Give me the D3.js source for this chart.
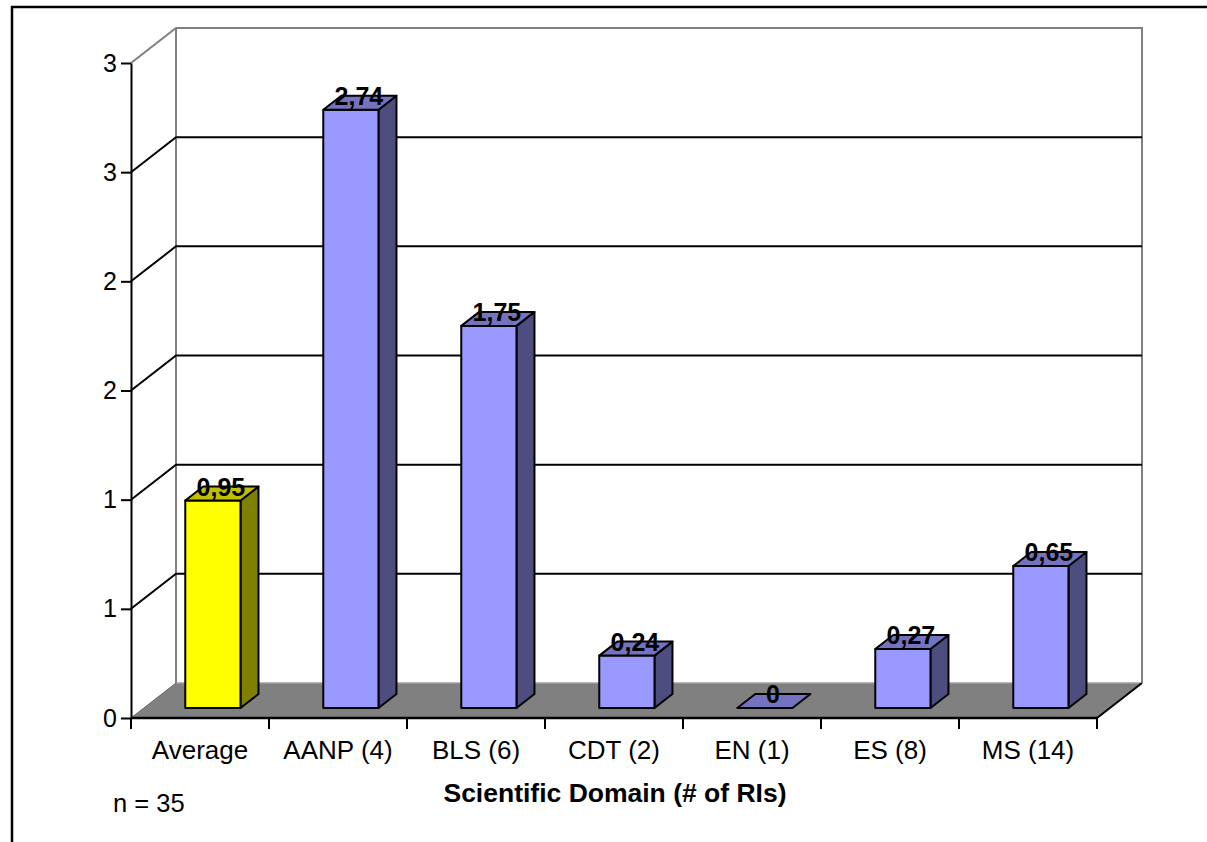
<!DOCTYPE html>
<html>
<head>
<meta charset="utf-8">
<script src="https://cdn.jsdelivr.net/npm/d3@7"></script>
<style>
  html, body { margin: 0; padding: 0; background: #fff; }
  svg { display: block; font-family: "Liberation Sans", Arial, sans-serif; }
</style>
</head>
<body>
<svg id="chart" width="1207" height="842"></svg>
<script>
// Categories (scientific domain, number of RIs) and their values
const categories = ["Average", "AANP (4)", "BLS (6)", "CDT (2)", "EN (1)", "ES (8)", "MS (14)"];
const values = [0.95, 2.74, 1.75, 0.24, 0, 0.27, 0.65];
const valueLabels = ["0,95", "2,74", "1,75", "0,24", "0", "0,27", "0,65"];
const yTickValues = [0, 0.5, 1, 1.5, 2, 2.5, 3];
const yTickLabels = ["0", "1", "1", "2", "2", "3", "3"];
const xTitle = "Scientific Domain (# of RIs)";
const note = "n = 35";

(function () {
  const svg = d3.select("#chart");

  // Plot box (front plane) and depth of the 3D box
  const plotLeft = 131, plotRight = 1097, plotBottom = 718, plotTop = 63;
  const depthX = 45, depthY = -35;

  const x = d3.scaleBand().domain(categories).range([plotLeft, plotRight]).padding(0);
  const y = d3.scaleLinear().domain([0, 3]).range([plotBottom, plotTop]);

  // Shift a front-plane point back into depth z in [0,1]
  const proj = (px, py, z) => [px + z * depthX, py + z * depthY];
  const poly = pts => "M" + pts.map(p => p.join(",")).join("L") + "Z";

  // Outer frame
  svg.append("rect")
    .attr("x", 12).attr("y", 7).attr("width", 1300).attr("height", 1000)
    .attr("fill", "none").attr("stroke", "#000").attr("stroke-width", 2.5);

  // Floor
  const fl = [proj(plotLeft, y(0), 0), proj(plotRight, y(0), 0), proj(plotRight, y(0), 1), proj(plotLeft, y(0), 1)];
  svg.append("path").attr("d", poly(fl)).attr("fill", "#808080").attr("stroke", "none");
  svg.append("line")
    .attr("x1", fl[3][0]).attr("y1", fl[3][1]).attr("x2", fl[2][0]).attr("y2", fl[2][1])
    .attr("stroke", "#a0a0a0").attr("stroke-width", 1.5);
  svg.append("line")
    .attr("x1", fl[0][0]).attr("y1", fl[0][1]).attr("x2", fl[3][0]).attr("y2", fl[3][1])
    .attr("stroke", "#666").attr("stroke-width", 1);
  svg.append("line")
    .attr("x1", fl[1][0]).attr("y1", fl[1][1]).attr("x2", fl[2][0]).attr("y2", fl[2][1])
    .attr("stroke", "#000").attr("stroke-width", 2);

  // Wall outline (side wall top, back wall top, back wall edges)
  const bTL = proj(plotLeft, y(3), 1), bTR = proj(plotRight, y(3), 1);
  const bBR = proj(plotRight, y(0), 1), bBL = proj(plotLeft, y(0), 1);
  svg.append("path")
    .attr("d", `M${plotLeft},${y(3)}L${bTL}L${bTR}L${bBR}`)
    .attr("fill", "none").attr("stroke", "#808080").attr("stroke-width", 2);
  svg.append("line")
    .attr("x1", bTL[0]).attr("y1", bTL[1]).attr("x2", bBL[0]).attr("y2", bBL[1])
    .attr("stroke", "#808080").attr("stroke-width", 2);

  // Gridlines across side wall and back wall
  svg.append("g").selectAll("path")
    .data(yTickValues.filter(v => v > 0 && v < 3))
    .join("path")
    .attr("d", v => {
      const a = proj(plotLeft, y(v), 1), b = proj(plotRight, y(v), 1);
      return `M${plotLeft},${y(v)}L${a}L${b}`;
    })
    .attr("fill", "none").attr("stroke", "#000").attr("stroke-width", 2);

  // Y axis
  const yAxis = d3.axisLeft(y).tickValues(yTickValues)
    .tickFormat((d, i) => yTickLabels[i]).tickSize(10).tickSizeOuter(0).tickPadding(4);
  const gy = svg.append("g").attr("transform", `translate(${plotLeft},0)`).call(yAxis);
  gy.select(".domain").attr("stroke", "#000").attr("stroke-width", 2);
  gy.selectAll(".tick line").attr("stroke", "#000").attr("stroke-width", 2);
  gy.selectAll(".tick text").attr("font-size", 25).attr("fill", "#000")
    .attr("font-family", "Liberation Sans, Arial, sans-serif");

  // X axis: line with ticks at category boundaries, labels centred in slots
  const gx = svg.append("g").attr("transform", `translate(0,${y(0)})`);
  gx.append("line").attr("x1", plotLeft).attr("x2", plotRight).attr("y1", 0).attr("y2", 0)
    .attr("stroke", "#000").attr("stroke-width", 2.5);
  const bounds = categories.map(c => x(c)).concat([x(categories[categories.length - 1]) + x.bandwidth()]);
  gx.selectAll("line.tk").data(bounds).join("line").attr("class", "tk")
    .attr("x1", d => d).attr("x2", d => d).attr("y1", 0).attr("y2", 11)
    .attr("stroke", "#000").attr("stroke-width", 2);
  gx.selectAll("text").data(categories).join("text")
    .attr("x", d => x(d) + x.bandwidth() / 2).attr("y", 41)
    .attr("text-anchor", "middle").attr("font-size", 26).attr("fill", "#000")
    .text(d => d);

  // Bars as 3D prisms
  const zFront = 0.286, zBack = 0.686;
  const barW = x.bandwidth() * 0.4;
  const palettes = categories.map((c, i) => i === 0
    ? { front: "#ffff00", top: "#bfbf00", side: "#808000" }
    : { front: "#9999ff", top: "#7373bf", side: "#4d4d80" });
  const outline = s => s.attr("stroke", "#000").attr("stroke-width", 2).attr("stroke-linejoin", "round");

  svg.append("g").selectAll("g").data(categories).join("g").each(function (c, i) {
    const g = d3.select(this);
    const cx = x(c) + x.bandwidth() / 2;
    const x0 = cx - barW / 2, x1 = cx + barW / 2;
    const yb = y(0), yt = y(values[i]);
    const f00 = proj(x0, yb, zFront), f10 = proj(x1, yb, zFront);
    const f01 = proj(x0, yt, zFront), f11 = proj(x1, yt, zFront);
    const b11 = proj(x1, yt, zBack), b01 = proj(x0, yt, zBack), b10 = proj(x1, yb, zBack);
    const pal = palettes[i];
    if (values[i] > 0) {
      g.append("path").attr("d", poly([f10, b10, b11, f11])).attr("fill", pal.side).call(outline);
      g.append("path").attr("d", poly([f00, f10, f11, f01])).attr("fill", pal.front).call(outline);
    }
    g.append("path").attr("d", poly([f01, f11, b11, b01])).attr("fill", pal.top).call(outline);
    // Value label centred on the top face
    const tc = proj(cx, yt, (zFront + zBack) / 2);
    g.append("text").attr("x", tc[0] - 1).attr("y", tc[1] + 2)
      .attr("text-anchor", "middle").attr("font-size", 25).attr("font-weight", "bold")
      .attr("fill", "#000").text(valueLabels[i]);
  });

  // Axis title and sample size note
  svg.append("text").attr("x", 615).attr("y", 802).attr("text-anchor", "middle")
    .attr("font-size", 26.5).attr("font-weight", "bold").attr("fill", "#000").text(xTitle);
  svg.append("text").attr("x", 113).attr("y", 812).attr("text-anchor", "start")
    .attr("font-size", 25.5).attr("fill", "#000").text(note);
})();
</script>
</body>
</html>
